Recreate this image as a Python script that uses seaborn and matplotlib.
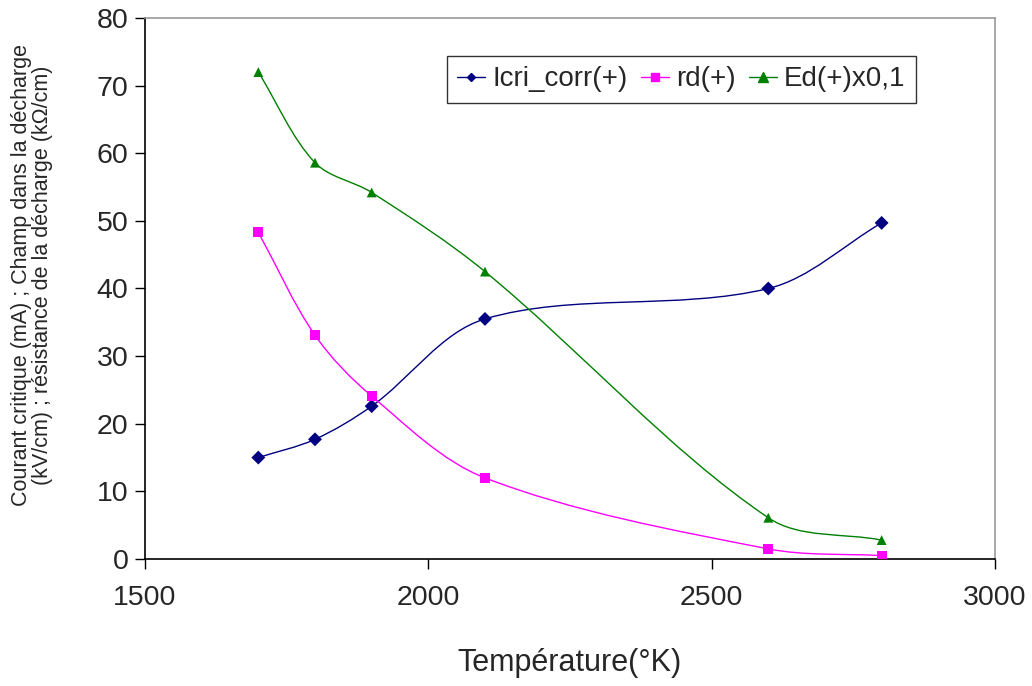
import numpy as np
import pandas as pd
import matplotlib
matplotlib.use('Agg')
import matplotlib.pyplot as plt
from matplotlib.path import Path
from matplotlib.patches import PathPatch
from matplotlib.lines import Line2D
import seaborn as sns

# données
temperature = [1700, 1800, 1900, 2100, 2600, 2800]
icri_corr = [15.0, 17.7, 22.6, 35.5, 40.0, 49.7]
rd = [48.3, 33.1, 24.1, 12.0, 1.5, 0.5]
ed_x01 = [72.0, 58.6, 54.2, 42.5, 6.1, 2.8]

series_names = ['Icri_corr(+)', 'rd(+)', 'Ed(+)x0,1']
colors = ['#000080', '#FF00FF', '#008000']
markers = ['D', 's', '^']
msizes = [4.5, 5.5, 6.5]

df = pd.DataFrame({'T': temperature, series_names[0]: icri_corr,
                   series_names[1]: rd, series_names[2]: ed_x01})
long = df.melt(id_vars='T', var_name='serie', value_name='val')


def smooth_path(ax, x, y):
    ''' courbe lissée façon Excel : Bézier cubique, tangentes pondérées
        par la longueur des segments (mesurée en pixels) '''
    p = np.column_stack([x, y]).astype(float)
    px = ax.transData.transform(p)
    n = len(p)
    d = np.hypot(*np.diff(px, axis=0).T)          # longueur de chaque segment
    verts = [p[0]]
    codes = [Path.MOVETO]
    for i in range(n - 1):
        # tangente au point i
        t0 = p[i + 1] - (p[i - 1] if i > 0 else p[i])
        w0 = d[i] / ((d[i - 1] if i > 0 else 0) + d[i])
        # tangente au point i+1
        t1 = (p[i + 2] if i + 2 < n else p[i + 1]) - p[i]
        w1 = d[i] / (d[i] + (d[i + 1] if i + 2 < n else 0))
        c1 = p[i] + t0 * w0 / 3
        c2 = p[i + 1] - t1 * w1 / 3
        verts += [c1, c2, p[i + 1]]
        codes += [Path.CURVE4] * 3
    return Path(verts, codes)


sns.set_style('white')
plt.rcParams['font.family'] = ['Liberation Sans', 'DejaVu Sans']

fig = plt.figure(figsize=(10.32, 6.86), dpi=100)
ax = fig.add_axes([0.1405, 0.1851, 0.8236, 0.7887])

ax.set_xlim(1500, 3000)
ax.set_ylim(0, 80)

for name, c in zip(series_names, colors):
    ax.add_patch(PathPatch(smooth_path(ax, df['T'], df[name]), facecolor='none',
                           edgecolor=c, lw=1.0, zorder=2))

sns.scatterplot(data=long, x='T', y='val', hue='serie', style='serie',
                hue_order=series_names, style_order=series_names,
                palette=colors, markers=markers, s=50, linewidth=0,
                legend=False, ax=ax, zorder=3)

ax.set_xlim(1500, 3000)
ax.set_ylim(0, 80)
ax.set_xticks(range(1500, 3001, 500))
ax.set_yticks(range(0, 81, 10))
ax.tick_params(axis='both', direction='out', length=7, width=1,
               color='black', labelsize=20.5, left=True, bottom=True, pad=5)
ax.xaxis.set_tick_params(pad=12)

for s in ['left', 'bottom']:
    ax.spines[s].set_color('black')
    ax.spines[s].set_linewidth(1.2)
for s in ['top', 'right']:
    ax.spines[s].set_color('#999999')
    ax.spines[s].set_linewidth(1.2)

ax.set_xlabel('Température(°K)', fontsize=22, labelpad=26)
ax.set_ylabel('Courant critique (mA) ; Champ dans la décharge\n'
              '(kV/cm) ; résistance de la décharge (kΩ/cm)',
              fontsize=15.5, linespacing=1.0)
ax.yaxis.set_label_coords(-0.108, 0.525)

handles = [Line2D([], [], color=c, marker=m, markersize=ms, lw=1.0)
           for c, m, ms in zip(colors, markers, msizes)]
leg = ax.legend(handles, series_names, ncol=3, loc='upper left',
                bbox_to_anchor=(0.355, 0.93), fontsize=20, frameon=True,
                fancybox=False, edgecolor='black', handlelength=1.0,
                handletextpad=0.25, columnspacing=0.5, borderpad=0.38,
                borderaxespad=0)
leg.get_frame().set_linewidth(1.0)

plt.savefig('out.png', dpi=100)
plt.close()
